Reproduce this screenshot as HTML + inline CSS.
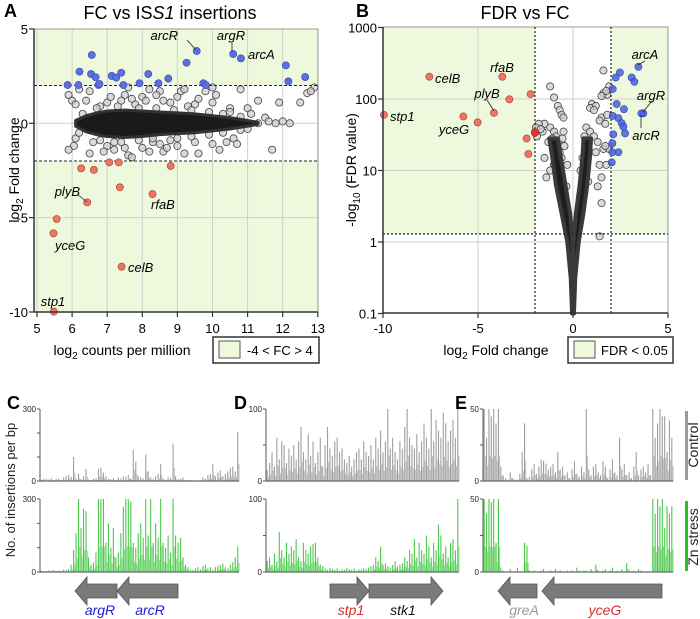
<!DOCTYPE html>
<html><head><meta charset="utf-8"><style>
html,body{margin:0;padding:0;background:#fff}
svg{display:block;font-family:"Liberation Sans",sans-serif}
</style></head><body>
<svg id="fig" width="700" height="619" viewBox="0 0 700 619" xmlns="http://www.w3.org/2000/svg">
<g id="gA"></g>
<g id="gB"></g>
<g id="gC"></g>
<text x="4" y="17" font-size="18" font-weight="bold">A</text>
<text x="170" y="19" font-size="18" text-anchor="middle">FC vs IS<tspan font-style="italic">S1</tspan> insertions</text>
<text x="356" y="17" font-size="18" font-weight="bold">B</text>
<text x="525" y="19" font-size="18" text-anchor="middle">FDR vs FC</text>
<text transform="translate(19,170) rotate(-90)" font-size="14" text-anchor="middle">log<tspan font-size="10" dy="4">2</tspan><tspan dy="-4"> Fold change</tspan></text>
<text x="122" y="355" font-size="14" text-anchor="middle">log<tspan font-size="10" dy="4">2</tspan><tspan dy="-4"> counts per million</tspan></text>
<text transform="translate(356,170) rotate(-90)" font-size="14" text-anchor="middle">-log<tspan font-size="10" dy="4">10</tspan><tspan dy="-4"> (FDR value)</tspan></text>
<text x="496" y="355" font-size="14" text-anchor="middle">log<tspan font-size="10" dy="4">2</tspan><tspan dy="-4"> Fold change</tspan></text>
<g>
<rect x="213" y="337" width="106" height="26" fill="#fff" stroke="#333" stroke-width="1.5"/>
<rect x="219" y="341" width="21" height="17" fill="#eef8dd" stroke="#555"/>
<text x="247" y="355" font-size="13">-4 &lt; FC &gt; 4</text>
</g>
<g>
<rect x="568" y="337" width="105" height="26" fill="#fff" stroke="#333" stroke-width="1.5"/>
<rect x="574" y="341" width="21" height="17" fill="#eef8dd" stroke="#555"/>
<text x="601" y="355" font-size="13">FDR &lt; 0.05</text>
</g>
<text x="7" y="409" font-size="18" font-weight="bold">C</text>
<text x="234" y="409" font-size="18" font-weight="bold">D</text>
<text x="455" y="409" font-size="18" font-weight="bold">E</text>
<text transform="translate(15,490) rotate(-90)" font-size="13" text-anchor="middle" fill="#222">No. of insertions per bp</text>
<rect x="685" y="411" width="3" height="69" fill="#999"/>
<text transform="translate(698,445) rotate(-90)" font-size="14" text-anchor="middle" fill="#222">Control</text>
<rect x="685" y="501" width="3" height="70" fill="#22c522"/>
<text transform="translate(698,537) rotate(-90)" font-size="14" text-anchor="middle" fill="#222">Zn stress</text>
</svg>
<script>
// ---------- Panel A data ----------
const aCoreX=[6.1,6.4,6.7,7,7.5,8,8.5,9,9.5,10,10.5,11,11.3];
const aCoreUp=[0.15,0.4,0.55,0.65,0.7,0.65,0.6,0.55,0.5,0.4,0.3,0.15,0.05];
const aCoreLo=[-0.15,-0.45,-0.6,-0.7,-0.75,-0.7,-0.6,-0.55,-0.5,-0.4,-0.3,-0.15,-0.05];
const aGray=[[5.9,1.5],[6.0,1.2],[6.1,1.0],[6.2,1.8],[6.1,-0.8],[6.05,-1.2],[5.9,-1.4],[6.5,1.7],[6.4,1.2],[6.5,-1.6],[6.6,-1.0],[7.0,1.1],[7.1,1.4],[7.0,-1.2],[6.9,-1.5],[7.5,1.5],[7.6,1.9],[7.4,1.2],[7.5,-1.3],[7.6,-1.7],[7.7,-1.8],[8.0,1.4],[8.1,1.2],[8.2,1.8],[8.0,-1.3],[8.2,-1.5],[8.5,1.7],[8.6,1.2],[8.5,-1.1],[8.6,-1.5],[9.0,1.4],[9.1,1.7],[9.0,-1.2],[9.2,-1.6],[9.5,1.0],[9.6,1.3],[9.5,-1.0],[9.6,-1.6],[10.0,1.1],[10.1,1.5],[10.0,-1.1],[10.2,-1.4],[10.5,0.8],[10.6,-0.8],[10.4,-1.0],[11.0,0.8],[11.1,0.5],[11.0,-0.3],[11.5,0.3],[11.6,0.1],[12.0,0.1],[11.7,-1.4],[11.3,1.2],[11.9,1.1],[12.5,1.1],[12.7,1.6],[12.9,1.9],[12.8,1.7],[10.8,1.8],[10.0,1.9],[9.2,1.8],[8.4,1.5],[9.8,1.7],[10.5,0.6],[7.2,-1.0],[8.8,-0.9],[9.3,0.9],[7.8,1.0],[6.8,0.9],[8.3,-1.0],
[6.3,0.5],[6.2,-0.5],[6.7,0.8],[6.8,-0.9],[7.3,0.9],[7.4,-1.0],[7.9,0.8],[7.9,-0.9],[8.4,0.8],[8.3,-0.8],[8.9,0.7],[9.0,-0.8],[9.4,0.7],[9.4,-0.7],[9.9,0.6],[9.9,-0.6],[10.3,0.5],[10.3,-0.5],[10.8,0.35],[10.8,-0.35],[11.3,0.0],[7.7,1.3],[8.8,1.1],[7.2,-1.4],[8.7,-1.3],[10.7,-1.1],[6.4,0.0],[11.8,0.0],[12.2,0.0]];
const aBlue=[[5.87,2.03],[6.18,2.03],[6.21,2.74],[6.56,3.62],[6.54,2.61],[6.67,2.44],[6.75,2.03],[6.78,2.08],[7.13,2.51],[7.26,2.42],[7.40,2.68],[7.46,2.03],[7.92,2.12],[8.17,2.61],[8.46,2.12],[8.74,2.37],[9.26,3.21],[9.55,3.83],[9.74,2.12],[9.81,2.03],[10.59,3.67],[10.81,3.44],[12.09,3.07],[12.16,2.22],[12.64,2.45]];
const aRed=[[5.48,-9.98],[5.56,-5.07],[5.47,-5.83],[6.26,-2.39],[6.62,-2.47],[6.43,-4.19],[7.06,-2.07],[7.33,-2.07],[7.36,-3.39],[7.41,-7.6],[8.29,-3.75],[8.81,-2.26]];
const aXTicks=[5,6,7,8,9,10,11,12,13];
const aYTicks=[5,0,-5,-10];

// ---------- Panel B data ----------
const bArmLevels=[-1,-0.5,0,0.4,0.8,1.2,1.45];
const bLeftOuter=[-0.05,-0.12,-0.3,-0.6,-0.9,-1.1,-1.25];
const bLeftInner=[0,0,-0.02,-0.15,-0.4,-0.65,-0.8];
const bRightInner=[0,0,0.02,0.15,0.35,0.5,0.55];
const bRightOuter=[0.05,0.12,0.3,0.55,0.75,0.9,0.95];
const bGray=[[-1.2,150],[-1.0,105],[-0.8,80],[-0.7,70],[-0.6,60],[-0.5,55],[-1.5,45],[-1.2,40],[-1.0,35],[-0.9,30],[-0.5,35],[-0.8,25],[-1.3,25],[-1.5,15],[-1.4,8],[-1.2,10],[-1.0,12],[-0.7,18],[-0.6,15],[-0.45,22],[-0.3,12],[-0.35,6],[-0.5,4],[-1.9,30],[-1.8,45],[-1.6,35],[-1.95,40],[-1.1,28],[-0.55,28],[-1.7,38],
[1.6,250],[1.9,150],[1.6,120],[1.8,115],[1.75,130],[1.5,110],[1.0,85],[1.2,80],[0.9,75],[1.1,70],[1.5,55],[1.4,50],[1.7,45],[1.8,60],[0.7,40],[0.9,35],[1.1,30],[1.3,25],[1.6,20],[1.9,20],[0.6,30],[0.8,20],[0.5,15],[1.2,18],[1.4,12],[1.5,8],[1.3,6],[0.8,7],[0.6,5],[0.4,10],[1.4,1.2],[1.5,3.5],[1.7,22],[1.75,12]];
const bRed=[[-9.95,60],[-7.56,205],[-3.72,205],[-3.35,99],[-4.16,64],[-5.77,57],[-5.02,47],[-2.23,117],[-2.44,28],[-2.35,17]];
const bBlue=[[3.44,282],[2.25,200],[2.47,235],[3.09,200],[3.23,174],[2.09,138],[2.3,85],[2.68,72],[2.09,58],[2.39,54],[2.56,46],[2.65,41],[2.74,33],[3.7,63],[3.6,63],[2.12,32],[2.07,24],[2.07,18],[2.39,18],[2.04,13]];
const bXTicks=[-10,-5,0,5];
const bYTicks=[0.1,1,10,100,1000];

// ---------- Panels C-E data ----------
const cControl=[5,8,10,6,12,4,8,10,5,15,20,25,18,100,10,30,8,20,50,6,4,10,12,50,55,35,20,10,8,12,5,15,10,20,18,25,12,130,80,20,15,10,110,40,15,8,20,30,70,10,5,15,12,155,20,8,10,15,5,4,3,2,1,2,0,15,10,25,30,70,20,35,45,20,30,40,55,60,40,205];
const cZn=[5,3,4,6,5,8,4,6,5,10,8,12,30,90,160,300,180,260,250,60,30,40,80,300,300,300,120,200,100,180,60,80,160,270,300,300,290,120,100,160,200,140,300,150,300,120,200,140,300,120,100,150,80,300,150,120,140,60,30,20,10,8,15,20,10,25,30,15,20,10,20,25,30,35,20,15,30,40,60,105];
const dControl=[15,25,40,20,60,30,55,50,25,45,35,50,30,55,75,40,30,65,35,55,25,40,60,20,50,75,45,35,55,60,40,45,30,25,35,20,30,40,45,30,55,40,35,50,30,60,45,70,40,55,100,45,60,40,30,55,45,75,100,60,50,45,65,40,55,80,60,45,100,55,85,70,60,95,80,55,70,85,60,100];
const dZn=[15,20,10,25,15,55,30,20,40,25,35,30,45,20,15,40,30,25,35,38,40,20,10,8,5,3,6,4,3,5,2,4,3,6,4,3,5,2,4,3,5,4,6,8,10,20,15,35,10,12,8,6,10,15,8,10,12,20,15,30,25,45,20,40,30,25,50,35,20,40,30,65,50,25,35,20,40,45,30,100];
const eControl=[50,30,50,45,50,40,50,10,4,2,1,6,2,1,1,5,20,40,2,3,8,12,5,10,15,14,12,8,10,12,6,20,8,10,4,6,2,8,14,5,3,10,6,50,8,4,10,12,6,4,14,10,2,8,15,6,4,30,8,12,4,6,2,10,20,4,8,10,6,12,4,50,30,40,50,45,45,20,42,30];
const eZn=[50,40,50,48,50,20,50,3,1,0,0,2,0,0,3,0,0,20,18,1,0,1,0,0,1,2,0,0,1,0,2,0,1,0,0,1,0,1,0,3,1,0,1,1,0,2,0,5,1,0,1,2,0,1,3,0,1,0,2,0,6,1,0,1,0,2,1,0,0,0,0,50,40,50,45,50,30,45,40,45];

const NS="http://www.w3.org/2000/svg";
function mk(parent,tag,attrs){const e=document.createElementNS(NS,tag);for(const k in attrs)e.setAttribute(k,attrs[k]);parent.appendChild(e);return e;}
function txt(parent,x,y,s,size,anchor,extra){const t=mk(parent,'text',Object.assign({x:x,y:y,'font-size':size,'text-anchor':anchor||'start'},extra||{}));t.textContent=s;return t;}

const GREEN="#eef8dd";
// ===== Panel A =====
const gA=document.getElementById('gA');
const ax=x=>37+(x-5)*35.1, ay=y=>123.3-y*18.87;
let e;
e=mk(gA,'rect',{x:34,y:29,width:284,height:283,fill:GREEN});


e=mk(gA,'rect',{x:34,y:ay(2),width:284,height:ay(-2)-ay(2),fill:'#fff'});


aXTicks.forEach(v=>{
  e=mk(gA,'line',{x1:ax(v),x2:ax(v),y1:29,y2:312,stroke:'#cfcfcf','stroke-width':1});
  
  
});
[0,-5].forEach(v=>{
  e=mk(gA,'line',{x1:34,x2:318,y1:ay(v),y2:ay(v),stroke:'#cfcfcf','stroke-width':1});
  
  
});
e=mk(gA,'rect',{x:34,y:29,width:284,height:283,fill:'none',stroke:'#999','stroke-width':1});


aGray.forEach(p=>{
  e=mk(gA,'circle',{cx:ax(p[0]),cy:ay(p[1]),r:3.6,fill:'rgba(205,205,205,0.75)',stroke:'#444','stroke-width':0.8});
  
  
});
let pts=aCoreX.map((x,i)=>ax(x)+','+ay(aCoreUp[i]));
pts=pts.concat(aCoreX.map((x,i)=>ax(x)+','+ay(aCoreLo[i])).reverse());
e=mk(gA,'polygon',{points:pts.join(' '),fill:'#1a1a1a',stroke:'#333','stroke-width':3,'stroke-linejoin':'round'});


[2,-2].forEach(v=>{
  e=mk(gA,'line',{x1:34,x2:318,y1:ay(v),y2:ay(v),stroke:'#222','stroke-width':1,'stroke-dasharray':'3,2'});
  
  
});
aBlue.forEach(p=>{
  e=mk(gA,'circle',{cx:ax(p[0]),cy:ay(p[1]),r:3.6,fill:'#5a6fe0',stroke:'#3344aa','stroke-width':0.6});
  
  
});
aRed.forEach(p=>{
  e=mk(gA,'circle',{cx:ax(p[0]),cy:ay(p[1]),r:3.6,fill:'#ec7563',stroke:'#a04030','stroke-width':0.6});
  
  
});
e=mk(gA,'line',{x1:34,x2:34,y1:29,y2:312,stroke:'#333','stroke-width':1.5});


e=mk(gA,'line',{x1:34,x2:318,y1:312,y2:312,stroke:'#333','stroke-width':1.5});


aXTicks.forEach(v=>{
  e=mk(gA,'line',{x1:ax(v),x2:ax(v),y1:312,y2:317,stroke:'#333','stroke-width':1.2});
  
  
  e=txt(gA,ax(v),333,String(v),13,'middle');
  
  
});
aYTicks.forEach(v=>{
  e=mk(gA,'line',{x1:29,x2:34,y1:ay(v),y2:ay(v),stroke:'#333','stroke-width':1.2});
  
  
  e=txt(gA,28,ay(v)+5,String(v),13,'end');
  
  
});
const aLab=[['arcR',178,40,'end'],['argR',231,40,'middle'],['arcA',248,59,'start'],['plyB',80,196,'end'],['yceG',55,250,'start'],['celB',128,272,'start'],['rfaB',151,209,'start'],['stp1',53,306,'middle']];
aLab.forEach(l=>{
  e=txt(gA,l[1],l[2],l[0],13,l[3],{'font-style':'italic'});
  
  
});
[[187,40,196,50],[232,43,232,52],[77,194,87,202]].forEach(s=>{
  e=mk(gA,'line',{x1:s[0],y1:s[1],x2:s[2],y2:s[3],stroke:'#222','stroke-width':0.8});
  
  
});

// ===== Panel B =====
const gB=document.getElementById('gB');
const bx=f=>573+19*f, by=v=>242-71.5*Math.log10(v), byl=l=>242-71.5*l;
const fdr=by(1.3);
e=mk(gB,'rect',{x:383,y:27,width:bx(-2)-383,height:fdr-27,fill:GREEN});


e=mk(gB,'rect',{x:bx(2),y:27,width:668-bx(2),height:fdr-27,fill:GREEN});


[-5,0].forEach(v=>{
  e=mk(gB,'line',{x1:bx(v),x2:bx(v),y1:27,y2:313,stroke:'#cfcfcf'});
  
  
});
[1,10,100].forEach(v=>{
  e=mk(gB,'line',{x1:383,x2:668,y1:by(v),y2:by(v),stroke:'#cfcfcf'});
  
  
});
e=mk(gB,'rect',{x:383,y:27,width:285,height:286,fill:'none',stroke:'#999'});


bGray.forEach(p=>{
  e=mk(gB,'circle',{cx:bx(p[0]),cy:by(p[1]),r:3.6,fill:'rgba(205,205,205,0.75)',stroke:'#444','stroke-width':0.8});
  
  
});
function arm(outer,inner,name){
  let p=bArmLevels.map((l,i)=>bx(outer[i])+','+byl(l));
  p=p.concat(bArmLevels.map((l,i)=>bx(inner[i])+','+byl(l)).reverse());
  const a=mk(gB,'polygon',{points:p.join(' '),fill:'#1e1e1e',stroke:'#3a3a3a','stroke-width':4,'stroke-linejoin':'round'});
  
  
}
arm(bLeftOuter,bLeftInner,'b-dense-cloud-left');
arm(bRightOuter,bRightInner,'b-dense-cloud-right');
[-2,2].forEach(v=>{
  e=mk(gB,'line',{x1:bx(v),x2:bx(v),y1:27,y2:313,stroke:'#222','stroke-width':1.2,'stroke-dasharray':'2,2'});
  
  
});
e=mk(gB,'line',{x1:383,x2:668,y1:fdr,y2:fdr,stroke:'#222','stroke-width':1.2,'stroke-dasharray':'2,2'});


bBlue.forEach(p=>{
  e=mk(gB,'circle',{cx:bx(p[0]),cy:by(p[1]),r:3.6,fill:'rgba(70,95,225,0.85)',stroke:'#3344aa','stroke-width':0.6});
  
  
});
bRed.forEach(p=>{
  e=mk(gB,'circle',{cx:bx(p[0]),cy:by(p[1]),r:3.6,fill:'#ec7563',stroke:'#a04030','stroke-width':0.6});
  
  
});
e=mk(gB,'circle',{cx:bx(-2.0),cy:by(34),r:3.8,fill:'#e8302a',stroke:'#a02020','stroke-width':0.6});


e=mk(gB,'line',{x1:383,x2:383,y1:27,y2:313,stroke:'#333','stroke-width':1.5});


e=mk(gB,'line',{x1:383,x2:668,y1:313,y2:313,stroke:'#333','stroke-width':1.5});


bXTicks.forEach(v=>{
  e=mk(gB,'line',{x1:bx(v),x2:bx(v),y1:313,y2:318,stroke:'#333','stroke-width':1.2});
  
  
  e=txt(gB,bx(v),333,String(v),13,'middle');
  
  
});
bYTicks.forEach(v=>{
  e=mk(gB,'line',{x1:378,x2:383,y1:by(v),y2:by(v),stroke:'#333','stroke-width':1.2});
  
  
  e=txt(gB,377,by(v)+5,String(v),13,'end');
  
  
});
const bLab=[['celB',435,83,'start'],['rfaB',502,72,'middle'],['plyB',487,98,'middle'],['yceG',454,134,'middle'],['stp1',390,121,'start'],['arcA',645,59,'middle'],['argR',651,100,'middle'],['arcR',646,140,'middle']];
bLab.forEach(l=>{
  e=txt(gB,l[1],l[2],l[0],13,l[3],{'font-style':'italic'});
  
  
});
[[487,100,494,111],[645,61,638,65],[652,101,643,112],[641,115,641,128]].forEach(s=>{
  e=mk(gB,'line',{x1:s[0],y1:s[1],x2:s[2],y2:s[3],stroke:'#222','stroke-width':0.8});
  
  
});

// ===== Panels C-E =====
const gC=document.getElementById('gC');
function track(vals,max,x0,x1,y0,ytop,color,ticks,name){
  const g=mk(gC,'g',{});
  
  
  const n=vals.length, step=(x1-x0)/n, sy=v=>y0-(v/max)*(y0-ytop);
  vals.forEach((v,i)=>{
    const x=x0+(i+0.5)*step;
    const b=mk(g,'line',{x1:x,x2:x,y1:y0,y2:sy(v),stroke:color,'stroke-width':1.1,'stroke-opacity':0.85});
    
    
    if(v>max*0.08){
      const b2=mk(g,'line',{x1:x+step*0.5,x2:x+step*0.5,y1:y0,y2:sy(v*0.35),stroke:color,'stroke-width':0.9,'stroke-opacity':0.6});
      
      
    }
  });
  const ax1=mk(g,'line',{x1:x0,x2:x0,y1:ytop,y2:y0,stroke:'#555','stroke-width':1});
  
  
  const ax2=mk(g,'line',{x1:x0,x2:x1,y1:y0,y2:y0,stroke:'#666','stroke-width':1.2});
  
  
  ticks.forEach(t=>{
    const tk=mk(g,'line',{x1:x0-3,x2:x0,y1:sy(t),y2:sy(t),stroke:'#555'});
    
    
  });
  [0,max].forEach(t=>{
    const tl=txt(g,x0-4,sy(t)+3,String(t),8,'end',{fill:'#222'});
    
    
  });
}
const GRAY="#8e8e8e", ZN="#2cc02c";
track(cControl,300,40,239,481,409,GRAY,[0,100,200,300],'c-control-track');
track(cZn,300,40,239,572,499,ZN,[0,100,200,300],'c-zn-track');
track(dControl,100,266,459,481,409,GRAY,[0,50,100],'d-control-track');
track(dZn,100,266,459,572,499,ZN,[0,50,100],'d-zn-track');
track(eControl,50,483,673,481,409,GRAY,[0,25,50],'e-control-track');
track(eZn,50,483,673,572,499,ZN,[0,25,50],'e-zn-track');

const genes=[['argR',75,117,-1,'#1a1adb'],['arcR',117,178,-1,'#1a1adb'],['stp1',330,369,1,'#d42b2b'],['stk1',369,443,1,'#111'],['greA',498,537,-1,'#999'],['yceG',542,662,-1,'#d42b2b']];
genes.forEach(gn=>{
  const [nm,a,b,dir,col]=gn, h=12, t1=584,t2=598,top=577,bot=605;
  let p;
  if(dir<0) p=[[a,591],[a+h,top],[a+h,t1],[b,t1],[b,t2],[a+h,t2],[a+h,bot]];
  else p=[[b,591],[b-h,top],[b-h,t1],[a,t1],[a,t2],[b-h,t2],[b-h,bot]];
  const ar=mk(gC,'polygon',{points:p.map(q=>q.join(',')).join(' '),fill:'#7a7a7a',stroke:'#555','stroke-width':0.8});
  
  
  const lx=nm==='argR'?100:nm==='arcR'?150:nm==='stp1'?351:nm==='stk1'?403:nm==='greA'?524:605;
  const lt=txt(gC,lx,615,nm,14,'middle',{'font-style':'italic',fill:col});
  
  
});
</script>
</body></html>
